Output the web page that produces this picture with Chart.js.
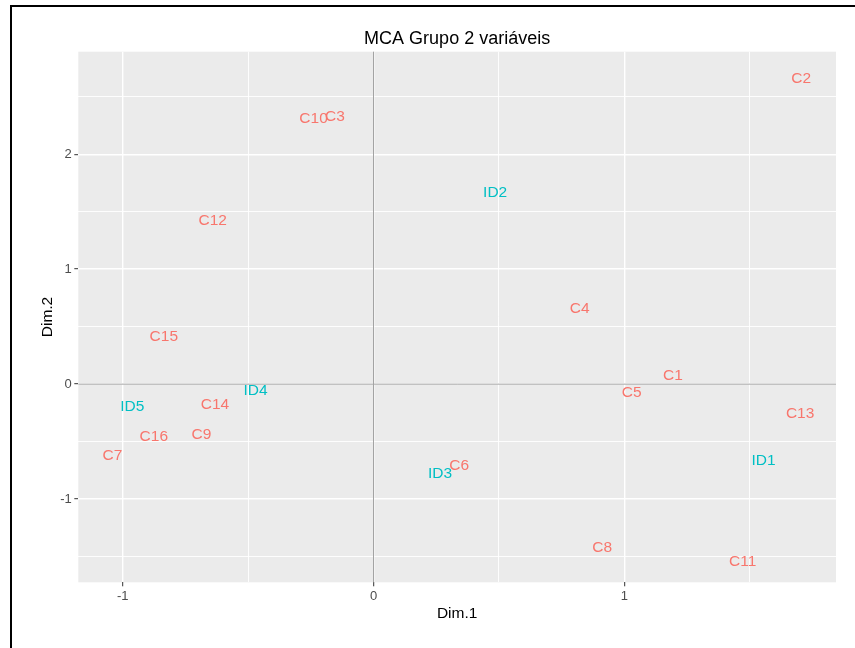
<!DOCTYPE html>
<html>
<head>
<meta charset="utf-8">
<script src="https://cdn.jsdelivr.net/npm/chart.js@4"></script>
<style>
  html, body { margin: 0; padding: 0; background: #ffffff; }
  #wrap { width: 855px; height: 648px; position: relative; }
</style>
</head>
<body>
<div id="wrap"><canvas id="c" width="855" height="648"></canvas></div>
<script>
// Category coordinates on the first two MCA dimensions
const catNames = ['C1','C2','C3','C4','C5','C6','C7','C8','C9','C10','C11','C12','C13','C14','C15','C16'];
const catDim1  = [1.194, 1.705, -0.154, 0.822, 1.029, 0.342, -1.041, 0.912, -0.686, -0.239, 1.472, -0.641, 1.701, -0.632, -0.836, -0.876];
const catDim2  = [0.087, 2.667, 2.339, 0.663, -0.067, -0.696, -0.609, -1.409, -0.429, 2.319, -1.530, 1.435, -0.246, -0.165, 0.426, -0.443];

// Identifier coordinates
const idNames = ['ID1','ID2','ID3','ID4','ID5'];
const idDim1  = [1.555, 0.485, 0.265, -0.470, -0.962];
const idDim2  = [-0.652, 1.678, -0.768, -0.049, -0.186];

// Axis limits and labelled ticks
const xLimits = [-1.177, 1.844];
const yLimits = [-1.724, 2.892];
const xTickLabels = [-1, 0, 1];
const yTickLabels = [-1, 0, 1, 2];

const RED = '#F8766D';
const CYAN = '#00BFC4';
const FONT = "'Liberation Sans', Arial, sans-serif";

const toPoints = (xs, ys) => xs.map((x, i) => ({ x: x, y: ys[i] }));

const isMajor = v => Math.abs(v - Math.round(v)) < 1e-9;

// Panel background, outer frame and zero reference lines
const panelPlugin = {
  id: 'panel',
  beforeDraw(chart) {
    const { ctx, chartArea: a, width, height } = chart;
    ctx.save();
    ctx.fillStyle = '#ffffff';
    ctx.fillRect(0, 0, width, height);
    ctx.fillStyle = '#EBEBEB';
    ctx.fillRect(a.left, a.top, a.right - a.left, a.bottom - a.top);
    ctx.strokeStyle = '#000000';
    ctx.lineWidth = 2;
    ctx.beginPath();
    ctx.moveTo(11, height);
    ctx.lineTo(11, 6);
    ctx.lineTo(width, 6);
    ctx.stroke();
    ctx.restore();
  },
  beforeDatasetsDraw(chart) {
    const { ctx, chartArea: a, scales } = chart;
    const x0 = scales.x.getPixelForValue(0);
    const y0 = scales.y.getPixelForValue(0);
    ctx.save();
    ctx.strokeStyle = '#A3A3A3';
    ctx.lineWidth = 1;
    ctx.beginPath();
    ctx.moveTo(x0, a.top);
    ctx.lineTo(x0, a.bottom);
    ctx.moveTo(a.left, y0);
    ctx.lineTo(a.right, y0);
    ctx.stroke();
    ctx.restore();
  },
  afterDraw(chart) {
    const { ctx, chartArea: a } = chart;
    ctx.save();
    ctx.fillStyle = '#000000';
    ctx.font = '18px ' + FONT;
    ctx.textAlign = 'center';
    ctx.textBaseline = 'alphabetic';
    ctx.fillText('MCA Grupo 2 variáveis', (a.left + a.right) / 2, 43.5);
    ctx.restore();
  }
};

// Text labels placed at each point's position
const textLabelPlugin = {
  id: 'textLabels',
  afterDatasetsDraw(chart) {
    const { ctx } = chart;
    const size = 15.5;
    ctx.save();
    ctx.font = size + 'px ' + FONT;
    ctx.textAlign = 'center';
    ctx.textBaseline = 'alphabetic';
    chart.data.datasets.forEach((ds, di) => {
      const meta = chart.getDatasetMeta(di);
      ctx.fillStyle = ds.textColor;
      meta.data.forEach((pt, i) => {
        ctx.fillText(ds.names[i], pt.x, pt.y + size * 0.358);
      });
    });
    ctx.restore();
  }
};

new Chart(document.getElementById('c'), {
  type: 'scatter',
  data: {
    datasets: [
      { label: 'Categorias', names: catNames, textColor: RED, data: toPoints(catDim1, catDim2),
        pointRadius: 0, pointHoverRadius: 0, pointHitRadius: 0 },
      { label: 'Identificadores', names: idNames, textColor: CYAN, data: toPoints(idDim1, idDim2),
        pointRadius: 0, pointHoverRadius: 0, pointHitRadius: 0 }
    ]
  },
  options: {
    responsive: false,
    animation: false,
    events: [],
    devicePixelRatio: 1,
    layout: { padding: { left: 0, right: 19, top: 51.7, bottom: 0 } },
    plugins: {
      legend: { display: false },
      tooltip: { enabled: false },
      title: { display: false }
    },
    scales: {
      x: {
        type: 'linear',
        position: 'bottom',
        min: xLimits[0],
        max: xLimits[1],
        afterFit(s) { s.height = 65.7; },
        border: { display: false },
        grid: {
          color: '#FFFFFF',
          lineWidth: c => isMajor(c.tick.value) ? 1.4 : 0.9,
          tickColor: c => isMajor(c.tick.value) ? '#333333' : 'rgba(0,0,0,0)',
          tickLength: 4,
          tickWidth: 1
        },
        ticks: {
          stepSize: 0.5,
          includeBounds: false,
          autoSkip: false,
          maxRotation: 0,
          padding: 2,
          color: '#4D4D4D',
          font: { family: FONT, size: 13 },
          callback: v => xTickLabels.includes(v) ? String(v) : ''
        },
        title: {
          display: true,
          text: 'Dim.1',
          color: '#000000',
          font: { family: FONT, size: 15.5 },
          padding: { top: 0, bottom: 25.4 }
        }
      },
      y: {
        type: 'linear',
        position: 'left',
        min: yLimits[0],
        max: yLimits[1],
        afterFit(s) { s.width = 78.3; },
        border: { display: false },
        grid: {
          color: '#FFFFFF',
          lineWidth: c => isMajor(c.tick.value) ? 1.4 : 0.9,
          tickColor: c => isMajor(c.tick.value) ? '#333333' : 'rgba(0,0,0,0)',
          tickLength: 4,
          tickWidth: 1
        },
        ticks: {
          stepSize: 0.5,
          includeBounds: false,
          autoSkip: false,
          padding: 2.5,
          color: '#4D4D4D',
          font: { family: FONT, size: 13 },
          callback: v => yTickLabels.includes(v) ? String(v) : ''
        },
        title: {
          display: true,
          text: 'Dim.2',
          color: '#000000',
          font: { family: FONT, size: 15.5 },
          padding: { top: 38.5, bottom: 0 }
        }
      }
    }
  },
  plugins: [panelPlugin, textLabelPlugin]
});
</script>
</body>
</html>
